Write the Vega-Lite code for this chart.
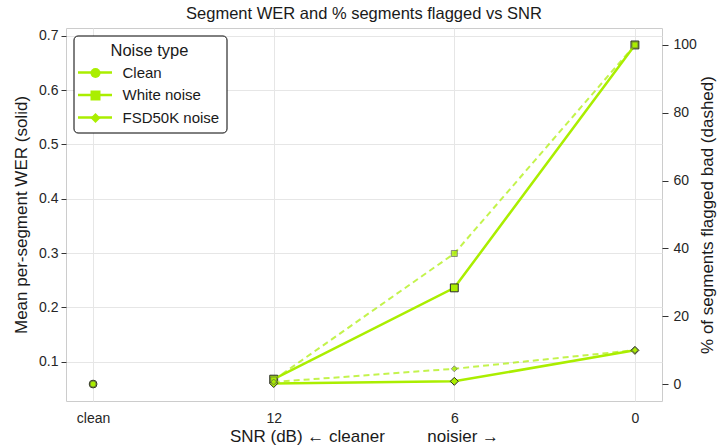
{
  "$schema": "https://vega.github.io/schema/vega-lite/v6.json",
  "width": 596,
  "height": 373,
  "autosize": "none",
  "padding": {"left": 66, "top": 28, "right": 56, "bottom": 45},
  "background": "white",
  "title": {"text": "Segment WER and % segments flagged vs SNR", "fontSize": 16.5, "fontWeight": "normal", "font": "Liberation Sans", "color": "#1a1a1a", "offset": 6},
  "data": {"values": [
    {"noise": "Clean", "series": "Clean", "snr": "clean", "wer": 0.059, "flag": 0},
    {"noise": "White noise", "series": "White noise", "snr": "12", "wer": 0.068, "flag": 1.2},
    {"noise": "White noise", "series": "White noise", "snr": "6", "wer": 0.236, "flag": 38.5},
    {"noise": "White noise", "series": "White noise", "snr": "0", "wer": 0.683, "flag": 100},
    {"noise": "FSD50K noise", "series": "FSD50K noise", "snr": "12", "wer": 0.060, "flag": 0.6},
    {"noise": "FSD50K noise", "series": "FSD50K noise", "snr": "6", "wer": 0.064, "flag": 4.5},
    {"noise": "FSD50K noise", "series": "FSD50K noise", "snr": "0", "wer": 0.121, "flag": 10}
  ]},
  "encoding": {
    "x": {"field": "snr", "type": "ordinal", "sort": ["clean", "12", "6", "0"],
      "scale": {"type": "point", "padding": 0.15},
      "axis": {"title": "SNR (dB) ← cleaner\u00a0\u00a0\u00a0\u00a0\u00a0\u00a0\u00a0\u00a0\u00a0noisier →", "labelAngle": 0, "ticks": false, "tickSize": 0, "labelPadding": 10, "grid": true, "titlePadding": 3}}
  },
  "layer": [
    {
      "encoding": {
        "y": {"field": "wer", "type": "quantitative",
          "scale": {"domain": [0.0278, 0.7142], "nice": false, "zero": false},
          "axis": {"orient": "left", "values": [0.1, 0.2, 0.3, 0.4, 0.5, 0.6, 0.7], "format": ".1f", "grid": true, "title": "Mean per-segment WER (solid)", "tickSize": 5, "labelPadding": 3, "titlePadding": 8}}
      },
      "layer": [
        {"mark": {"type": "line", "strokeWidth": 2.5},
         "encoding": {
           "color": {"field": "series", "type": "nominal", "scale": {"domain": ["Clean", "White noise", "FSD50K noise"], "range": ["#aaee00", "#aaee00", "#aaee00"]},
             "legend": {"orient": "none", "legendX": 7.5, "legendY": 7.5, "zindex": 1, "title": "Noise type", "titleFontSize": 16.5, "titleFontWeight": "normal", "titleColor": "#1a1a1a", "titleFont": "Liberation Sans", "titleAnchor": "middle", "titlePadding": 6,
               "labelFontSize": 15, "labelFont": "Liberation Sans", "labelColor": "#1a1a1a", "labelOffset": 20, "padding": 7, "rowPadding": 6.5,
               "symbolSize": 100, "symbolOffset": 7, "symbolType": "M-3.4,0H3.4", "symbolStrokeWidth": 2.5, "symbolStrokeColor": "#aaee00", "symbolOpacity": 1,
               "fillColor": "white", "strokeColor": "#000000", "cornerRadius": 4}},
           "detail": {"field": "noise"}}},
        {"mark": {"type": "point", "filled": true, "fill": "#aaee00", "stroke": "#2a2a2a", "strokeWidth": 1, "opacity": 1},
         "encoding": {
           "shape": {"field": "noise", "type": "nominal", "scale": {"domain": ["Clean", "White noise", "FSD50K noise"], "range": ["circle", "square", "diamond"]},
             "legend": {"orient": "top-left", "offset": 7.5, "zindex": 2, "title": "Noise type", "titleFontSize": 16.5, "titleFontWeight": "normal", "titleColor": "transparent", "titleFont": "Liberation Sans", "titleAnchor": "middle", "titlePadding": 6,
               "labelFontSize": 15, "labelFont": "Liberation Sans", "labelColor": "transparent", "labelOffset": 20, "padding": 7, "rowPadding": 6.5,
               "symbolSize": 100, "symbolOffset": 7, "symbolStrokeWidth": 1.2, "symbolFillColor": "#aaee00", "symbolStrokeColor": "#2a2a2a", "symbolOpacity": 1, "strokeColor": "transparent"}},
           "size": {"field": "noise", "type": "nominal", "scale": {"domain": ["Clean", "White noise", "FSD50K noise"], "range": [60, 64, 95]}, "legend": null}
         }}
      ]
    },
    {
      "encoding": {
        "y": {"field": "flag", "type": "quantitative",
          "scale": {"domain": [-5, 105], "nice": false, "zero": false},
          "axis": {"orient": "right", "values": [0, 20, 40, 60, 80, 100], "grid": false, "title": "% of segments flagged bad (dashed)", "titleAngle": 270, "titleBaseline": "top", "tickSize": 6, "labelPadding": 5, "titlePadding": 3}}
      },
      "layer": [
        {"mark": {"type": "line", "color": "#aaee00", "strokeWidth": 2, "strokeDash": [6, 4], "opacity": 0.7},
         "encoding": {"detail": {"field": "noise"}}},
        {"mark": {"type": "point", "filled": true, "fill": "#aaee00", "stroke": "#555555", "strokeWidth": 0.8, "opacity": 0.8},
         "encoding": {
           "shape": {"field": "noise", "type": "nominal", "scale": {"domain": ["Clean", "White noise", "FSD50K noise"], "range": ["circle", "square", "diamond"]}},
           "size": {"field": "noise", "type": "nominal", "scale": {"domain": ["Clean", "White noise", "FSD50K noise"], "range": [36, 36, 55]}, "legend": null}
         }}
      ]
    }
  ],
  "resolve": {"scale": {"y": "independent", "size": "independent"}},
  "config": {
    "view": {"stroke": "#cccccc", "strokeWidth": 1},
    "font": "Liberation Sans",
    "axis": {"domain": false, "gridColor": "#e6e6e6", "gridWidth": 1, "labelFont": "Liberation Sans", "labelFontSize": 14, "labelColor": "#262626", "titleFont": "Liberation Sans", "titleFontSize": 17, "titleFontWeight": "normal", "titleColor": "#1a1a1a", "tickColor": "#333333"}
  }
}
